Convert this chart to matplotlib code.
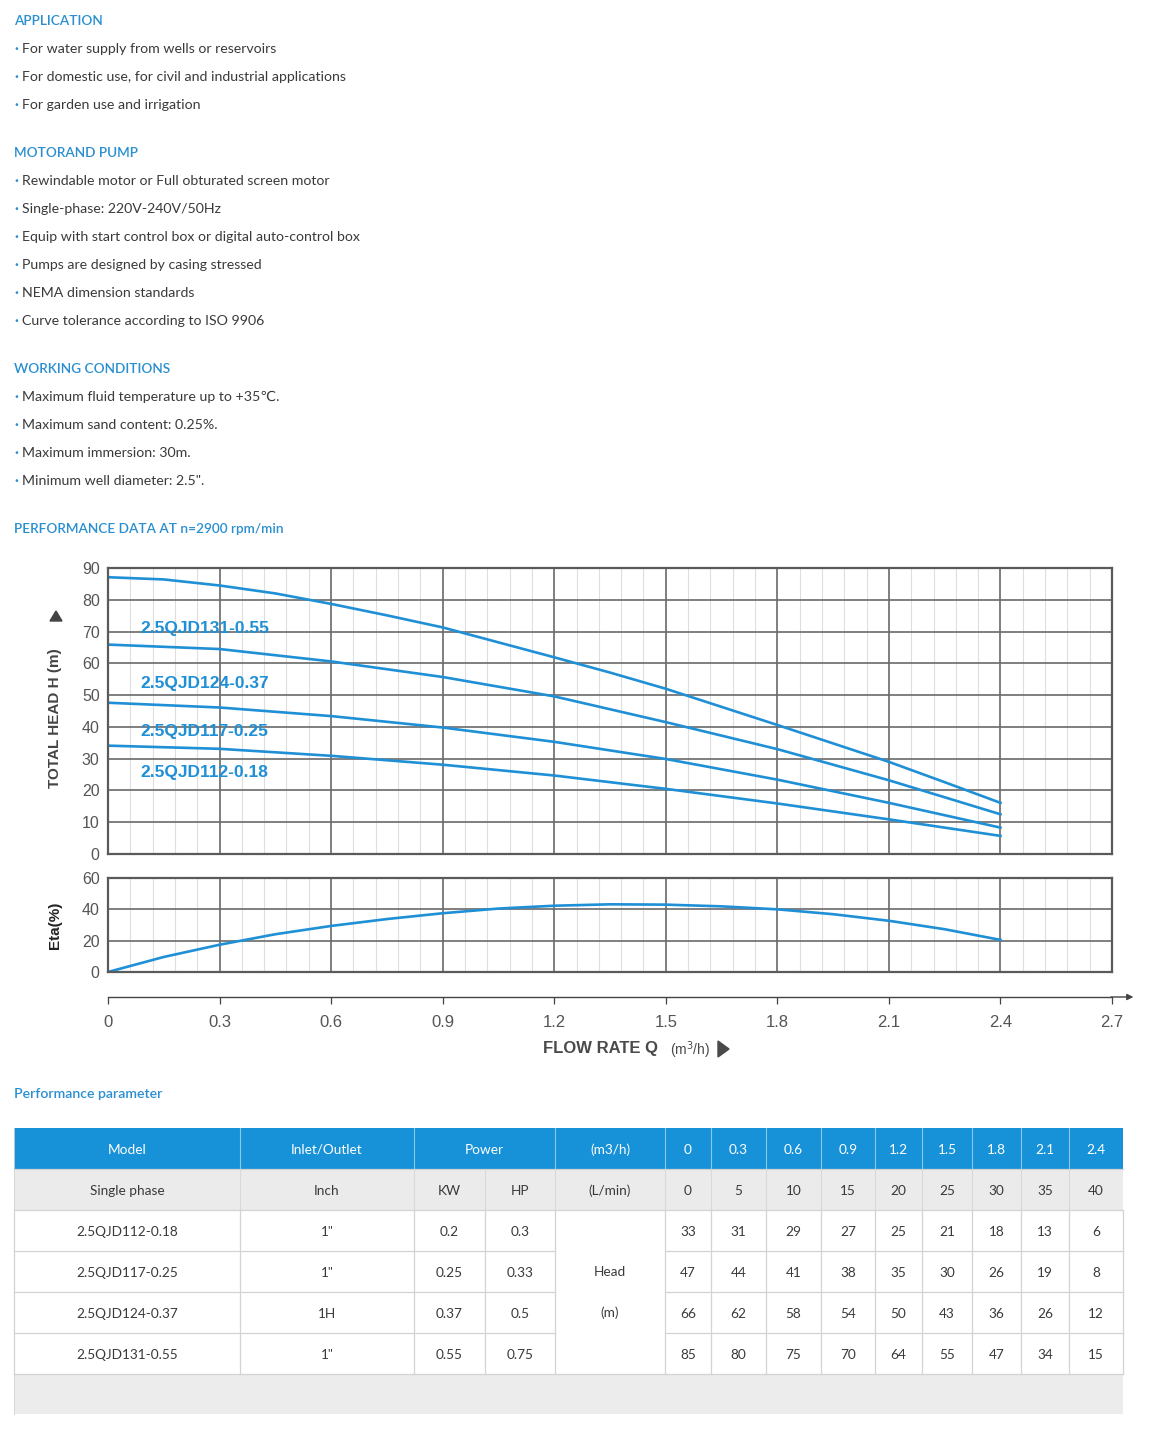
import numpy as np
import matplotlib
matplotlib.use("Agg")
import matplotlib.pyplot as plt
from matplotlib.patches import Rectangle, Polygon

# ---- page text ----
app_items = ["For water supply from wells or reservoirs",
             "For domestic use, for civil and industrial applications",
             "For garden use and irrigation"]
motor_items = ["Rewindable motor or Full obturated screen motor",
               "Single-phase: 220V-240V/50Hz",
               "Equip with start control box or digital auto-control box",
               "Pumps are designed by casing stressed",
               "NEMA dimension standards",
               "Curve tolerance according to ISO 9906"]
work_items = ["Maximum fluid temperature up to +35\u2103.",
              "Maximum sand content: 0.25%.",
              "Maximum immersion: 30m.",
              "Minimum well diameter: 2.5\"."]

# ---- curves ----
q_fine = [0, 0.15, 0.3, 0.45, 0.6, 0.75, 0.9, 1.05, 1.2, 1.35, 1.5, 1.65,
          1.8, 1.95, 2.1, 2.25, 2.4]
h_131 = [87.1, 86.4, 84.5, 82.0, 78.7, 75.1, 71.3, 66.6, 61.9, 57.1, 52.0,
         46.3, 40.6, 34.8, 29.0, 22.6, 16.1]
q_pts = [0, 0.3, 0.6, 0.9, 1.2, 1.5, 1.8, 2.1, 2.4]
h_124 = [65.9, 64.5, 60.6, 55.7, 49.6, 41.5, 33.0, 23.2, 12.5]
h_117 = [47.6, 46.1, 43.4, 39.8, 35.3, 29.9, 23.4, 16.1, 8.3]
h_112 = [34.1, 33.1, 30.9, 28.1, 24.7, 20.5, 15.9, 10.9, 5.7]
curve_names = ["2.5QJD131-0.55", "2.5QJD124-0.37", "2.5QJD117-0.25", "2.5QJD112-0.18"]
eta = [0, 9.6, 17.4, 24.1, 29.4, 33.8, 37.5, 40.5, 42.3, 43.2, 43.0, 41.9,
       40.0, 36.9, 32.7, 27.3, 20.5]

# ---- table ----
models = ["2.5QJD112-0.18", "2.5QJD117-0.25", "2.5QJD124-0.37", "2.5QJD131-0.55"]
inlet = ['1"', '1"', '1H', '1"']
kw = ["0.2", "0.25", "0.37", "0.55"]
hp = ["0.3", "0.33", "0.5", "0.75"]
flow_m3h = ["0", "0.3", "0.6", "0.9", "1.2", "1.5", "1.8", "2.1", "2.4"]
flow_lmin = ["0", "5", "10", "15", "20", "25", "30", "35", "40"]
heads = [[33, 31, 29, 27, 25, 21, 18, 13, 6],
         [47, 44, 41, 38, 35, 30, 26, 19, 8],
         [66, 62, 58, 54, 50, 43, 36, 26, 12],
         [85, 80, 75, 70, 64, 55, 47, 34, 15]]

W, H = 1151, 1432
BLUE = "#2a8fd1"
LINE = "#1f8fd6"
TXT = "#3a3a3a"
GRAYTXT = "#555555"
BODYFONT = ["Lato", "DejaVu Sans"]
CHARTFONT = "Liberation Sans"


def box(l, t, r, b):
    return [l / W, 1 - b / H, (r - l) / W, (b - t) / H]


fig = plt.figure(figsize=(W / 100, H / 100), dpi=100)
bg = fig.add_axes([0, 0, 1, 1])
bg.set_xlim(0, W)
bg.set_ylim(H, 0)
bg.axis("off")


def heading(y, s):
    bg.text(14, y, s, color=BLUE, fontsize=9.8, family=BODYFONT,
            weight="semibold", va="center", ha="left")


def bullets(y0, items):
    for i, s in enumerate(items):
        y = y0 + 28 * i
        bg.text(14, y, "\u00b7", color=BLUE, fontsize=10, family=BODYFONT,
                weight="bold", va="center", ha="left")
        bg.text(22, y, s, color=TXT, fontsize=10.2, family=BODYFONT,
                va="center", ha="left")


heading(21, "APPLICATION")
bullets(49, app_items)
heading(153, "MOTORAND PUMP")
bullets(181, motor_items)
heading(369, "WORKING CONDITIONS")
bullets(397, work_items)
heading(529, "PERFORMANCE DATA AT n=2900 rpm/min")


def style_grid(ax, ymax, ystep):
    ax.set_xlim(0, 2.7)
    ax.set_ylim(0, ymax)
    ax.set_xticks(np.arange(0, 2.71, 0.3))
    ax.set_xticks(np.arange(0, 2.71, 0.06), minor=True)
    ax.set_yticks(np.arange(0, ymax + 1, ystep))
    ax.grid(True, which="minor", axis="x", color="#dedede", lw=0.8)
    ax.grid(True, which="major", axis="both", color="#6a6a6a", lw=1.2)
    ax.set_axisbelow(True)
    for sp in ax.spines.values():
        sp.set_color("#5a5a5a")
        sp.set_linewidth(1.6)
    ax.tick_params(which="both", length=0, labelbottom=False)
    ax.tick_params(axis="y", labelsize=11.5, labelcolor=GRAYTXT, pad=6)
    for lab in ax.get_yticklabels():
        lab.set_family(CHARTFONT)


# ---- head chart ----
ax1 = fig.add_axes(box(108, 568, 1112, 854))
style_grid(ax1, 90, 10)
ax1.plot(q_fine, h_131, color=LINE, lw=1.9)
for hv in [h_124, h_117, h_112]:
    ax1.plot(q_pts, hv, color=LINE, lw=1.9)
label_y = [71.1, 53.8, 38.6, 25.7]
for name, ly in zip(curve_names, label_y):
    ax1.text(0.088, ly, name, color=LINE, fontsize=12.5, weight="bold",
             family=CHARTFONT, va="center", ha="left")

# ---- efficiency chart ----
ax2 = fig.add_axes(box(108, 878, 1112, 972))
style_grid(ax2, 60, 20)
ax2.plot(q_fine, eta, color=LINE, lw=1.9)

# ---- flow axis ----
ax3 = fig.add_axes(box(108, 996, 1112, 997))
ax3.set_xlim(0, 2.7)
ax3.set_ylim(0, 1)
for k in ["top", "left", "right"]:
    ax3.spines[k].set_visible(False)
ax3.spines["bottom"].set_color("#444444")
ax3.spines["bottom"].set_linewidth(1.0)
ax3.set_yticks([])
ax3.set_xticks(np.arange(0, 2.71, 0.3))
ax3.set_xticklabels(["0", "0.3", "0.6", "0.9", "1.2", "1.5", "1.8", "2.1", "2.4", "2.7"])
ax3.tick_params(axis="x", length=5, width=0.9, color="#444444",
                labelsize=12, labelcolor=GRAYTXT, pad=8)
for lab in ax3.get_xticklabels():
    lab.set_family(CHARTFONT)
ax3.annotate("", xy=(2.765, 0), xytext=(2.69, 0), xycoords="data",
             arrowprops=dict(arrowstyle="-|>", color="#444444", lw=1.0,
                             mutation_scale=9), annotation_clip=False)

bg.text(543, 1049, "FLOW RATE Q", fontsize=12, weight="bold", color="#4a4a4a",
        family=CHARTFONT, va="center", ha="left")
bg.text(670, 1050, "(m$^3$/h)", fontsize=10, color="#4a4a4a",
        family=CHARTFONT, va="center", ha="left")
bg.add_patch(Polygon([[718, 1041], [718, 1057], [729, 1049]], closed=True,
                     color="#4a4a4a"))
bg.text(55, 718, "TOTAL HEAD H (m)", fontsize=11, weight="bold", color="#444444",
        family=CHARTFONT, rotation=90, va="center", ha="center")
bg.add_patch(Polygon([[50, 621], [62, 621], [56, 611]], closed=True, color="#444444"))
bg.text(55, 925, "Eta(%)", fontsize=11, weight="bold", color="#222222",
        family=CHARTFONT, rotation=90, va="center", ha="center")

# ---- performance table ----
bg.text(14, 1094, "Performance parameter", color=BLUE, fontsize=10.2,
        family=BODYFONT, weight="semibold", va="center", ha="left")

cols = [14, 240, 414, 485, 555, 665, 711, 766, 821, 875, 922, 972, 1021, 1069, 1123]
rows = [1128, 1169, 1210, 1251, 1292, 1333, 1374, 1414]
HEADBLUE = "#1791d8"
LGRAY = "#ebebeb"
BORDER = "#d3d3d3"
L, R = cols[0], cols[-1]

bg.add_patch(Rectangle((L, rows[0]), R - L, rows[1] - rows[0], color=HEADBLUE, lw=0))
bg.add_patch(Rectangle((L, rows[1]), R - L, rows[2] - rows[1], color=LGRAY, lw=0))
bg.add_patch(Rectangle((L, rows[6]), R - L, rows[7] - rows[6], color="#ececec", lw=0))

for c in cols[1:-1]:
    if c == 485:
        continue
    bg.plot([c, c], [rows[0], rows[1]], color="#8cc6ea", lw=0.8)
for c in cols[1:-1]:
    bg.plot([c, c], [rows[1], rows[2]], color="#d9d9d9", lw=0.8)
for c in cols:
    bg.plot([c, c], [rows[2], rows[6]], color=BORDER, lw=0.9)
for r in [rows[1], rows[2], rows[6]]:
    bg.plot([L, R], [r, r], color=BORDER, lw=0.9)
for r in rows[3:6]:
    bg.plot([L, 555], [r, r], color=BORDER, lw=0.9)
    bg.plot([665, R], [r, r], color=BORDER, lw=0.9)
bg.plot([L, L], [rows[0], rows[7]], color=BORDER, lw=0.6)


def cell_text(x, y, s, color=TXT):
    bg.text(x, y + 1.5, s, color=color, fontsize=9.8, family=BODYFONT,
            va="center", ha="center")


def mid(i):
    return (cols[i] + cols[i + 1]) / 2


def rmid(j):
    return (rows[j] + rows[j + 1]) / 2


cell_text(mid(0), rmid(0), "Model", "white")
cell_text(mid(1), rmid(0), "Inlet/Outlet", "white")
cell_text((cols[2] + cols[4]) / 2, rmid(0), "Power", "white")
cell_text(mid(4), rmid(0), "(m3/h)", "white")
for i, s in enumerate(flow_m3h):
    cell_text(mid(5 + i), rmid(0), s, "white")

for i, s in enumerate(["Single phase", "Inch", "KW", "HP", "(L/min)"]):
    cell_text(mid(i), rmid(1), s)
for i, s in enumerate(flow_lmin):
    cell_text(mid(5 + i), rmid(1), s)

for j in range(4):
    y = rmid(2 + j)
    cell_text(mid(0), y, models[j])
    cell_text(mid(1), y, inlet[j])
    cell_text(mid(2), y, kw[j])
    cell_text(mid(3), y, hp[j])
    for i, v in enumerate(heads[j]):
        cell_text(mid(5 + i), y, str(v))
cell_text(mid(4), 1271, "Head")
cell_text(mid(4), 1311, "(m)")

fig.savefig("out.png", dpi=100)
